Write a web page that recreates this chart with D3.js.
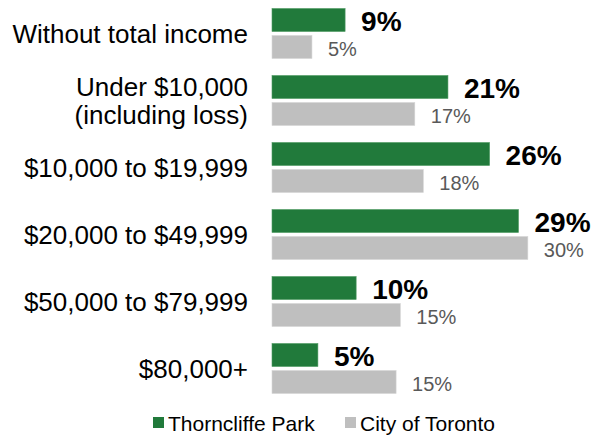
<!DOCTYPE html>
<html>
<head>
<meta charset="utf-8">
<script src="https://cdn.jsdelivr.net/npm/d3@7"></script>
<style>
  body { margin: 0; background: #fff; }
  svg { font-family: "Liberation Sans", Arial, sans-serif; }
</style>
</head>
<body>
<div id="chart"></div>
<script>
// categories (multi-line labels split on "\n")
const categories = [
  "Without total income",
  "Under $10,000\n(including loss)",
  "$10,000 to $19,999",
  "$20,000 to $49,999",
  "$50,000 to $79,999",
  "$80,000+"
];
const seriesNames = ["Thorncliffe Park", "City of Toronto"];
// share of population (%)
const thorncliffe = [8.6, 20.7, 25.6, 29.0, 9.9, 5.4];
const toronto = [4.7, 16.8, 17.8, 30.1, 15.1, 14.6];
const labelsThorncliffe = ["9%", "21%", "26%", "29%", "10%", "5%"];
const labelsToronto = ["5%", "17%", "18%", "30%", "15%", "15%"];

const width = 595, height = 437;
const green = "#217a3b", grey = "#bfbfbf";

const svg = d3.select("#chart").append("svg")
  .attr("width", width).attr("height", height);

const x = d3.scaleLinear().domain([0, 30]).range([272, 527]);
const y = d3.scaleBand().domain(categories).range([0, 402]).paddingInner(0.254).paddingOuter(0.127);
const bh = 23, gap = 4;

const groups = svg.selectAll("g.cat")
  .data(categories)
  .join("g")
  .attr("class", "cat")
  .attr("transform", d => `translate(0,${y(d)})`);

// green bars
groups.append("rect")
  .attr("x", x(0))
  .attr("y", 0)
  .attr("width", (d, i) => x(thorncliffe[i]) - x(0))
  .attr("height", bh)
  .attr("fill", green)
  .attr("stroke", "#4f9a63")
  .attr("stroke-width", 0.6);

// grey bars
groups.append("rect")
  .attr("x", x(0))
  .attr("y", bh + gap)
  .attr("width", (d, i) => x(toronto[i]) - x(0))
  .attr("height", bh)
  .attr("fill", grey)
  .attr("stroke", "#d6d6d6")
  .attr("stroke-width", 0.6);

// value labels
groups.append("text")
  .attr("x", (d, i) => x(thorncliffe[i]) + 16)
  .attr("y", 22)
  .attr("font-size", "28px")
  .attr("font-weight", "bold")
  .attr("fill", "#000")
  .text((d, i) => labelsThorncliffe[i]);

groups.append("text")
  .attr("x", (d, i) => x(toronto[i]) + 16)
  .attr("y", 47)
  .attr("font-size", "20px")
  .attr("fill", "#595959")
  .text((d, i) => labelsToronto[i]);

// category labels
groups.each(function (d) {
  const lines = d.split("\n");
  const t = d3.select(this).append("text")
    .attr("x", 248)
    .attr("text-anchor", "end")
    .attr("font-size", "26px")
    .attr("fill", "#000");
  const lh = 28;
  const c = bh + gap / 2;
  lines.forEach((l, k) => {
    t.append("tspan")
      .attr("x", 248)
      .attr("y", c + 9 + (k - (lines.length - 1) / 2) * lh)
      .text(l);
  });
});

// legend
const legend = svg.append("g").attr("transform", "translate(0,431)");
const legItems = [
  { name: seriesNames[0], color: green, x: 153 },
  { name: seriesNames[1], color: grey, x: 345 }
];
legItems.forEach(it => {
  legend.append("rect")
    .attr("x", it.x).attr("y", -14).attr("width", 11).attr("height", 11)
    .attr("fill", it.color);
  legend.append("text")
    .attr("x", it.x + 15).attr("y", 0)
    .attr("font-size", "21px")
    .attr("fill", "#000")
    .text(it.name);
});
</script>
</body>
</html>
